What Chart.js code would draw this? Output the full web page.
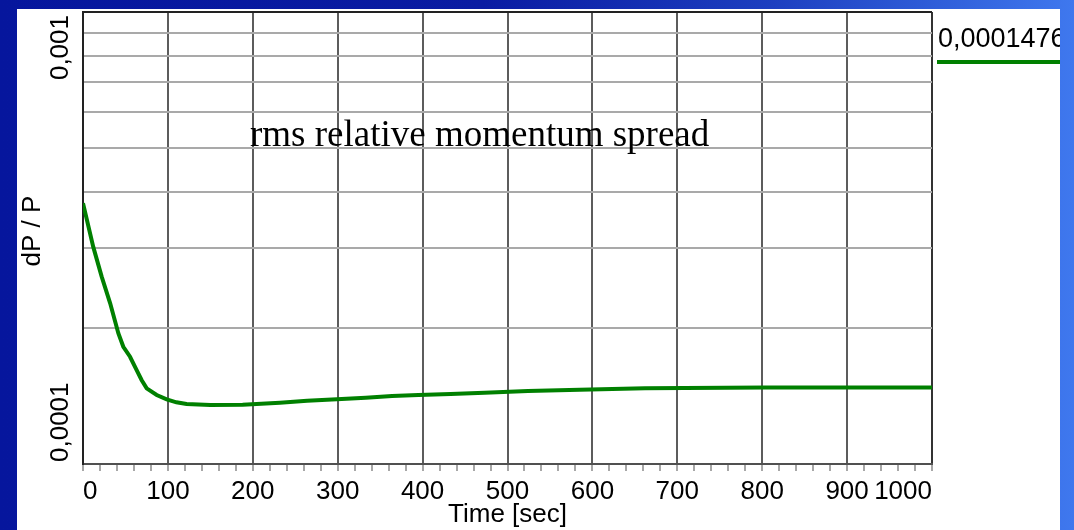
<!DOCTYPE html>
<html>
<head>
<meta charset="utf-8">
<script src="https://cdn.jsdelivr.net/npm/chart.js@4.4.1/dist/chart.umd.min.js"></script>
<style>
  html, body { margin: 0; padding: 0; }
  body {
    width: 1074px; height: 530px; overflow: hidden; position: relative;
    background: linear-gradient(90deg, #06169d 0%, #0a1ca2 45%, #1d3fc0 72%, #3f78ee 100%);
  }
  #panel {
    position: absolute; left: 17px; top: 9px; width: 1043px; height: 521px;
    background: #fff; overflow: hidden;
  }
</style>
</head>
<body>
<div id="panel"><canvas id="chart" width="1043" height="521"></canvas></div>
<script>
// rms dP/P versus time
const timeSec = [0, 12, 22, 32, 41.6, 47.5, 55.4, 63.2, 69, 75, 86.8, 98.6, 110, 122, 150, 188,
                 232, 264, 299, 333, 364, 395, 433, 473, 524, 585, 662, 803, 1000];
const dpOverP = [3.774e-4, 3.026e-4, 2.597e-4, 2.267e-4, 1.947e-4, 1.817e-4, 1.727e-4, 1.614e-4,
                 1.534e-4, 1.470e-4, 1.421e-4, 1.390e-4, 1.369e-4, 1.357e-4, 1.350e-4, 1.352e-4,
                 1.366e-4, 1.380e-4, 1.390e-4, 1.401e-4, 1.414e-4, 1.421e-4, 1.428e-4, 1.438e-4,
                 1.450e-4, 1.459e-4, 1.470e-4, 1.476e-4, 1.476e-4];

const xMin = 0, xMax = 1000, xMajor = 100, xMinor = 20;
const yGridValues = [1e-4, 2e-4, 3e-4, 4e-4, 5e-4, 6e-4, 7e-4, 8e-4, 9e-4, 1e-3];
const yTickValues = [1e-4, 1e-3];
const yTickLabels = ['0,0001', '0,001'];

const chartTitle = 'rms relative momentum spread';
const xTitle = 'Time [sec]';
const yTitle = 'dP / P';
const lineColor = '#008000';

const sans = '"Liberation Sans", Arial, sans-serif';
const serif = '"Liberation Serif", "Times New Roman", serif';

const points = timeSec.map((t, i) => ({ x: t, y: dpOverP[i] }));

// rotated y labels, axis title, caption and the last-value marker on the right
const decorations = {
  id: 'decorations',
  afterDraw(chart) {
    const ctx = chart.ctx;
    const area = chart.chartArea;
    const ys = chart.scales.y;

    ctx.save();
    ctx.fillStyle = '#000';
    ctx.font = '26px ' + sans;
    ctx.textBaseline = 'middle';
    yTickValues.forEach((v, i) => {
      const atTop = v >= ys.max * 0.999;
      const py = ys.getPixelForValue(v);
      ctx.save();
      ctx.translate(area.left - 22, atTop ? py + 3 : py - 2);
      ctx.rotate(-Math.PI / 2);
      ctx.textAlign = atTop ? 'right' : 'left';
      ctx.fillText(yTickLabels[i], 0, 0);
      ctx.restore();
    });

    ctx.save();
    ctx.translate(area.left - 50, (area.top + area.bottom) / 2 - 7);
    ctx.rotate(-Math.PI / 2);
    ctx.textAlign = 'center';
    ctx.fillText(yTitle, 0, 0);
    ctx.restore();

    ctx.font = '37px ' + serif;
    ctx.textAlign = 'left';
    ctx.textBaseline = 'alphabetic';
    ctx.fillText(chartTitle, area.left + 167, area.top + 134);

    const last = dpOverP[dpOverP.length - 1];
    ctx.font = '27px ' + sans;
    ctx.fillText(String(last).replace('.', ','), area.right + 6, area.top + 35);
    ctx.strokeStyle = lineColor;
    ctx.lineWidth = 4;
    ctx.beginPath();
    ctx.moveTo(area.right + 5, area.top + 50);
    ctx.lineTo(chart.width, area.top + 50);
    ctx.stroke();
    ctx.restore();
  }
};

new Chart(document.getElementById('chart'), {
  type: 'line',
  data: {
    datasets: [{
      data: points,
      borderColor: lineColor,
      borderWidth: 4,
      pointRadius: 0,
      tension: 0,
      fill: false
    }]
  },
  options: {
    responsive: false,
    animation: false,
    layout: { padding: { top: 3, right: 128, left: 0, bottom: 0 } },
    plugins: { legend: { display: false }, tooltip: { enabled: false } },
    scales: {
      x: {
        type: 'linear',
        min: xMin,
        max: xMax,
        afterFit: s => { s.height = 66; },
        ticks: {
          stepSize: xMinor,
          autoSkip: false,
          maxRotation: 0,
          align: 'inner',
          padding: 5,
          color: '#000',
          font: { family: sans, size: 26 },
          callback: v => (v % xMajor === 0 ? String(v) : '')
        },
        grid: {
          color: c => {
            const v = c.tick.value;
            if (v % xMajor !== 0 || v === xMin) return 'rgba(0,0,0,0)';
            return v === xMax ? '#333' : '#5c5c5c';
          },
          lineWidth: 2,
          drawTicks: true,
          tickLength: 7,
          tickColor: '#8a8a8a',
          tickWidth: 1.5
        },
        border: { color: '#505050', width: 2 },
        title: {
          display: true,
          text: xTitle,
          color: '#000',
          font: { family: sans, size: 26 },
          padding: { top: 0, bottom: 0 }
        }
      },
      y: {
        type: 'logarithmic',
        min: yTickValues[0],
        max: yTickValues[1],
        afterFit: s => { s.width = 66; },
        afterBuildTicks: s => { s.ticks = yGridValues.map(v => ({ value: v })); },
        ticks: { display: false },
        grid: {
          color: c => (c.tick.value >= 0.999e-3 ? '#222' : '#a9a9a9'),
          lineWidth: 2,
          drawTicks: false
        },
        border: { color: '#222', width: 2 }
      }
    }
  },
  plugins: [decorations]
});
</script>
</body>
</html>
